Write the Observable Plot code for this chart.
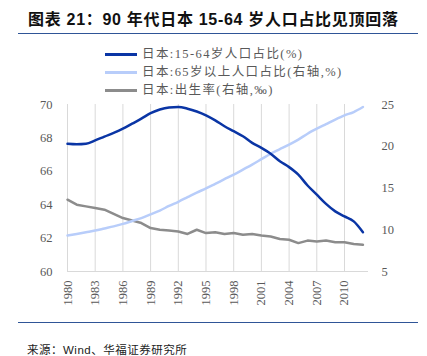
<!DOCTYPE html>
<html>
<head>
<meta charset="utf-8">
<script src="https://cdn.jsdelivr.net/npm/d3@7"></script>
<script src="https://cdn.jsdelivr.net/npm/@observablehq/plot@0.6"></script>
<style>
  html, body { margin: 0; padding: 0; background: #fff; }
  #wrap { position: relative; width: 427px; height: 356px; overflow: hidden; font-family: "Liberation Serif", "Noto Sans CJK SC", serif; }
  #title { position: absolute; left: 28px; top: 6px; font-family: "Liberation Sans", Arial, "Noto Sans CJK SC", sans-serif; font-weight: bold; font-size: 16px; letter-spacing: 0.7px; color: #111; white-space: nowrap; }
  .hr { position: absolute; left: 18px; width: 400px; height: 0; border-top: 1.5px solid #2f5597; }
  #legend { position: absolute; left: 105px; top: 45px; font-size: 12.5px; color: #595959; letter-spacing: 1.4px; }
  .lg { position: relative; height: 18px; line-height: 18px; white-space: nowrap; }
  .lg span.sw { display: inline-block; width: 32px; height: 3px; vertical-align: middle; margin-right: 5px; position: relative; top: -1px; }
  #chart { position: absolute; left: 0; top: 40px; }
  #source { position: absolute; left: 27px; top: 341px; font-size: 11.5px; color: #222; letter-spacing: 0.5px; font-family: "Liberation Sans", Arial, "Noto Sans CJK SC", sans-serif; white-space: nowrap; }
</style>
</head>
<body>
<div id="wrap">
  <div id="title">图表 21：90 年代日本 15-64 岁人口占比见顶回落</div>
  <div class="hr" style="top:33px"></div>
  <div id="legend"></div>
  <div id="chart"></div>
  <div class="hr" style="top:322px"></div>
  <div id="source">来源：Wind、华福证券研究所</div>
</div>
<script>
const years = d3.range(1980, 2013);
const workingAge = [67.65, 67.62, 67.65, 67.85, 68.08, 68.3, 68.55, 68.85, 69.15, 69.48, 69.7, 69.82, 69.85, 69.75, 69.58, 69.35, 69.05, 68.7, 68.4, 68.1, 67.7, 67.4, 67.05, 66.6, 66.25, 65.8, 65.15, 64.6, 64.05, 63.6, 63.3, 63.0, 62.35];
const elderly = [9.3, 9.5, 9.7, 9.9, 10.15, 10.4, 10.7, 11.05, 11.4, 11.85, 12.3, 12.85, 13.35, 13.9, 14.45, 14.95, 15.5, 16.05, 16.6, 17.2, 17.8, 18.45, 19.1, 19.65, 20.2, 20.8, 21.5, 22.1, 22.65, 23.2, 23.7, 24.1, 24.7];
const birthRate = [13.6, 13.0, 12.8, 12.6, 12.4, 11.9, 11.4, 11.1, 10.8, 10.2, 10.0, 9.9, 9.8, 9.5, 10.0, 9.6, 9.7, 9.5, 9.6, 9.4, 9.5, 9.3, 9.2, 8.9, 8.8, 8.4, 8.7, 8.6, 8.7, 8.5, 8.5, 8.3, 8.2];
const seriesNames = ["日本:15-64岁人口占比(%)", "日本:65岁以上人口占比(右轴,%)", "日本:出生率(右轴,‰)"];
const seriesColors = ["#0a35a5", "#b8cdfa", "#8c8c8c"];
const leftTicks = [60, 62, 64, 66, 68, 70];
const rightTicks = [5, 10, 15, 20, 25];
const xTicks = d3.range(1980, 2011, 3);

// right axis (5..25) mapped onto left scale (60..70)
const toLeft = v => 60 + (v - 5) * 0.5;
const fromLeft = v => (v - 60) * 2 + 5;

const rows = [];
years.forEach((y, i) => {
  rows.push({year: y, value: workingAge[i], s: 0});
  rows.push({year: y, value: toLeft(elderly[i]), s: 1});
  rows.push({year: y, value: toLeft(birthRate[i]), s: 2});
});

const plot = Plot.plot({
  width: 427,
  height: 280,
  marginLeft: 67,
  marginRight: 59,
  marginTop: 64,
  marginBottom: 49,
  style: {fontFamily: "Liberation Serif, serif", fontSize: "12.5px", color: "#595959", background: "transparent"},
  x: {domain: [1980, 2012.6], axis: null},
  y: {domain: [60, 70], axis: null},
  marks: [
    Plot.ruleY([60], {x1: 1980, x2: 2012.6, stroke: "#d9d9d9", strokeWidth: 1}),
    Plot.tickX(xTicks, {x: d => d, y1: 60, y2: 59.75, stroke: "#d9d9d9"}),
    Plot.axisX(xTicks, {anchor: "bottom", tickSize: 0, tickPadding: 9, tickRotate: -90, tickFormat: d => String(d), fill: "#595959", fontSize: 12.5, label: null}),
    Plot.axisY(leftTicks, {anchor: "left", tickSize: 0, tickPadding: 15, fill: "#595959", fontSize: 12.5, label: null}),
    Plot.axisY(rightTicks.map(toLeft), {anchor: "right", tickSize: 0, tickPadding: 13, tickFormat: d => String(Math.round(fromLeft(d))), fill: "#595959", fontSize: 12.5, label: null}),
    Plot.line(rows.filter(d => d.s === 2), {x: "year", y: "value", stroke: seriesColors[2], strokeWidth: 2.5}),
    Plot.line(rows.filter(d => d.s === 1), {x: "year", y: "value", stroke: seriesColors[1], strokeWidth: 2.5, curve: "monotone-x"}),
    Plot.line(rows.filter(d => d.s === 0), {x: "year", y: "value", stroke: seriesColors[0], strokeWidth: 2.5, curve: "monotone-x"})
  ]
});
document.getElementById("chart").appendChild(plot);

const lg = document.getElementById("legend");
seriesNames.forEach((n, i) => {
  const row = document.createElement("div");
  row.className = "lg";
  const sw = document.createElement("span");
  sw.className = "sw";
  sw.style.background = seriesColors[i];
  row.appendChild(sw);
  row.appendChild(document.createTextNode(n));
  lg.appendChild(row);
});
</script>
</body>
</html>
